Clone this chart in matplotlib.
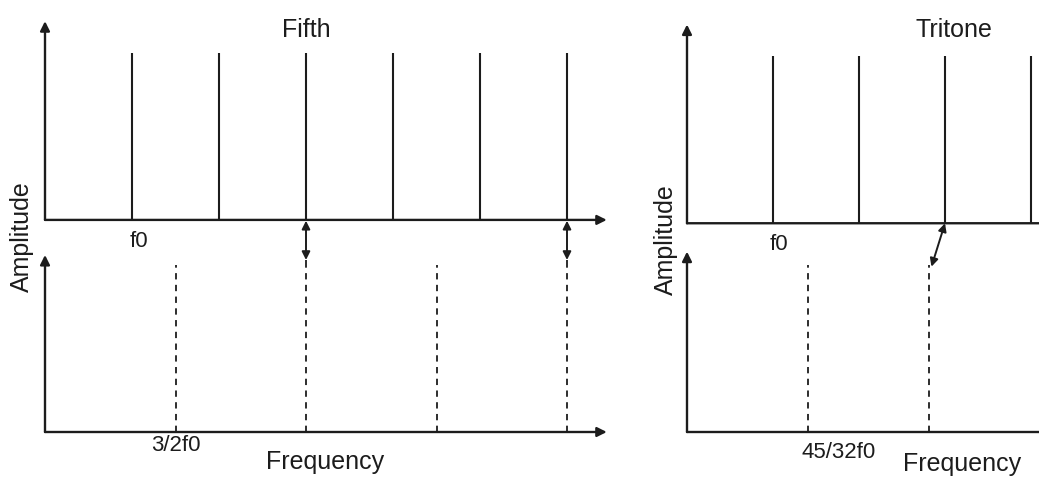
import numpy as np
import matplotlib
matplotlib.use("Agg")
import matplotlib.pyplot as plt

plt.rcParams['font.family'] = ['Liberation Sans', 'DejaVu Sans']

# DATA (frequencies in multiples of f0, amplitudes normalised)
fifth_upper = [1, 2, 3, 4, 5, 6]            # harmonics of f0
fifth_lower = [1.5, 3.0, 4.5, 6.0]          # harmonics of 3/2 f0
fifth_amp = [1.0, 1.0]                      # upper / lower line heights
fifth_coincide = [3.0, 6.0]                 # coinciding partials

tritone_upper = [1, 2, 3, 4]
tritone_lower = [45 / 32, 90 / 32]          # harmonics of 45/32 f0
tritone_amp = [1.0, 1.0]
tritone_near = [(3.0, 90 / 32)]             # close but not coincident partials

titles = ["Fifth", "Tritone"]
low_labels = ["3/2f0", "45/32f0"]

W, H = 1039, 478
fig = plt.figure(figsize=(W / 100, H / 100), dpi=100)

INK = '#1c1c1c'
UP = 1.27      # offset of the upper spectrum baseline
UNIT = 167     # pixels per amplitude unit


def make_ax(x0, x1, f0px):
    # axes where x is in units of f0 and y=0 is the lower baseline (pixel 432)
    bottom = H - 432
    top = H - 12
    ax = fig.add_axes([x0 / W, bottom / H, (x1 - x0) / W, (top - bottom) / H])
    ax.set_xlim(0, (x1 - x0) / f0px)
    ax.set_ylim(0, (top - bottom) / UNIT)
    ax.axis('off')
    return ax


def axis_arrow(ax, p0, p1, head=True):
    style = '-|>' if head else '-'
    ax.annotate('', xy=p1, xytext=p0,
                arrowprops=dict(arrowstyle=style, color=INK, lw=1.7,
                                mutation_scale=14, shrinkA=0, shrinkB=0),
                annotation_clip=False)


def dbl_arrow(ax, p0, p1):
    ax.annotate('', xy=p1, xytext=p0,
                arrowprops=dict(arrowstyle='<|-|>', color=INK, lw=1.4,
                                mutation_scale=12, shrinkA=0, shrinkB=0),
                annotation_clip=False)


# ---- Fifth panel ----
ax1 = make_ax(45, 612, 87)
xmax1 = ax1.get_xlim()[1]
axis_arrow(ax1, (0, UP), (0, 2.46))
axis_arrow(ax1, (0, UP), (xmax1 - 0.06, UP))
axis_arrow(ax1, (0, 0), (0, 1.06))
axis_arrow(ax1, (0, 0), (xmax1 - 0.06, 0))
ax1.vlines(fifth_upper, UP, UP + fifth_amp[0], color=INK, lw=1.5)
ax1.vlines(fifth_lower, 0, fifth_amp[1], color=INK, lw=1.3,
           linestyles=(0, (3.5, 3)))
for f in fifth_coincide:
    ax1.vlines(f, fifth_amp[1], 1.03, color=INK, lw=1.3, linestyles=(0, (3.5, 3)))
    dbl_arrow(ax1, (f, UP - 0.005), (f, 1.03))
ax1.text(1.08, UP - 0.13, 'f0', ha='center', va='center', fontsize=16, color=INK)
ax1.text(1.5, -0.08, low_labels[0], ha='center', va='center', fontsize=16, color=INK)
ax1.text(3.0, 2.41, titles[0], ha='center', va='center', fontsize=18, color=INK)
ax1.text(3.22, -0.18, 'Frequency', ha='center', va='center', fontsize=18, color=INK)
ax1.text(-0.26, 1.17, 'Amplitude', ha='center', va='center', rotation=90,
         fontsize=18, color=INK)

# ---- Tritone panel ----
ax2 = make_ax(687, W, 86)
xmax2 = ax2.get_xlim()[1]
axis_arrow(ax2, (0, UP - 0.02), (0, 2.44))
axis_arrow(ax2, (0, UP - 0.02), (xmax2 + 0.2, UP - 0.02), head=False)
axis_arrow(ax2, (0, 0), (0, 1.08))
axis_arrow(ax2, (0, 0), (xmax2 + 0.2, 0), head=False)
ax2.vlines(tritone_upper, UP - 0.02, UP - 0.02 + tritone_amp[0], color=INK, lw=1.5)
ax2.vlines(tritone_lower, 0, tritone_amp[1], color=INK, lw=1.3,
           linestyles=(0, (3.5, 3)))
for fu, fl in tritone_near:
    dbl_arrow(ax2, (fu, UP - 0.02), (fl + 0.03, 0.99))
ax2.text(1.07, UP - 0.15, 'f0', ha='center', va='center', fontsize=16, color=INK)
ax2.text(1.76, -0.12, low_labels[1], ha='center', va='center', fontsize=16, color=INK)
ax2.text(3.1, 2.41, titles[1], ha='center', va='center', fontsize=18, color=INK)
ax2.text(3.2, -0.19, 'Frequency', ha='center', va='center', fontsize=18, color=INK)
ax2.text(-0.25, 1.15, 'Amplitude', ha='center', va='center', rotation=90,
         fontsize=18, color=INK)

fig.savefig('out.png', dpi=100, facecolor='white')
